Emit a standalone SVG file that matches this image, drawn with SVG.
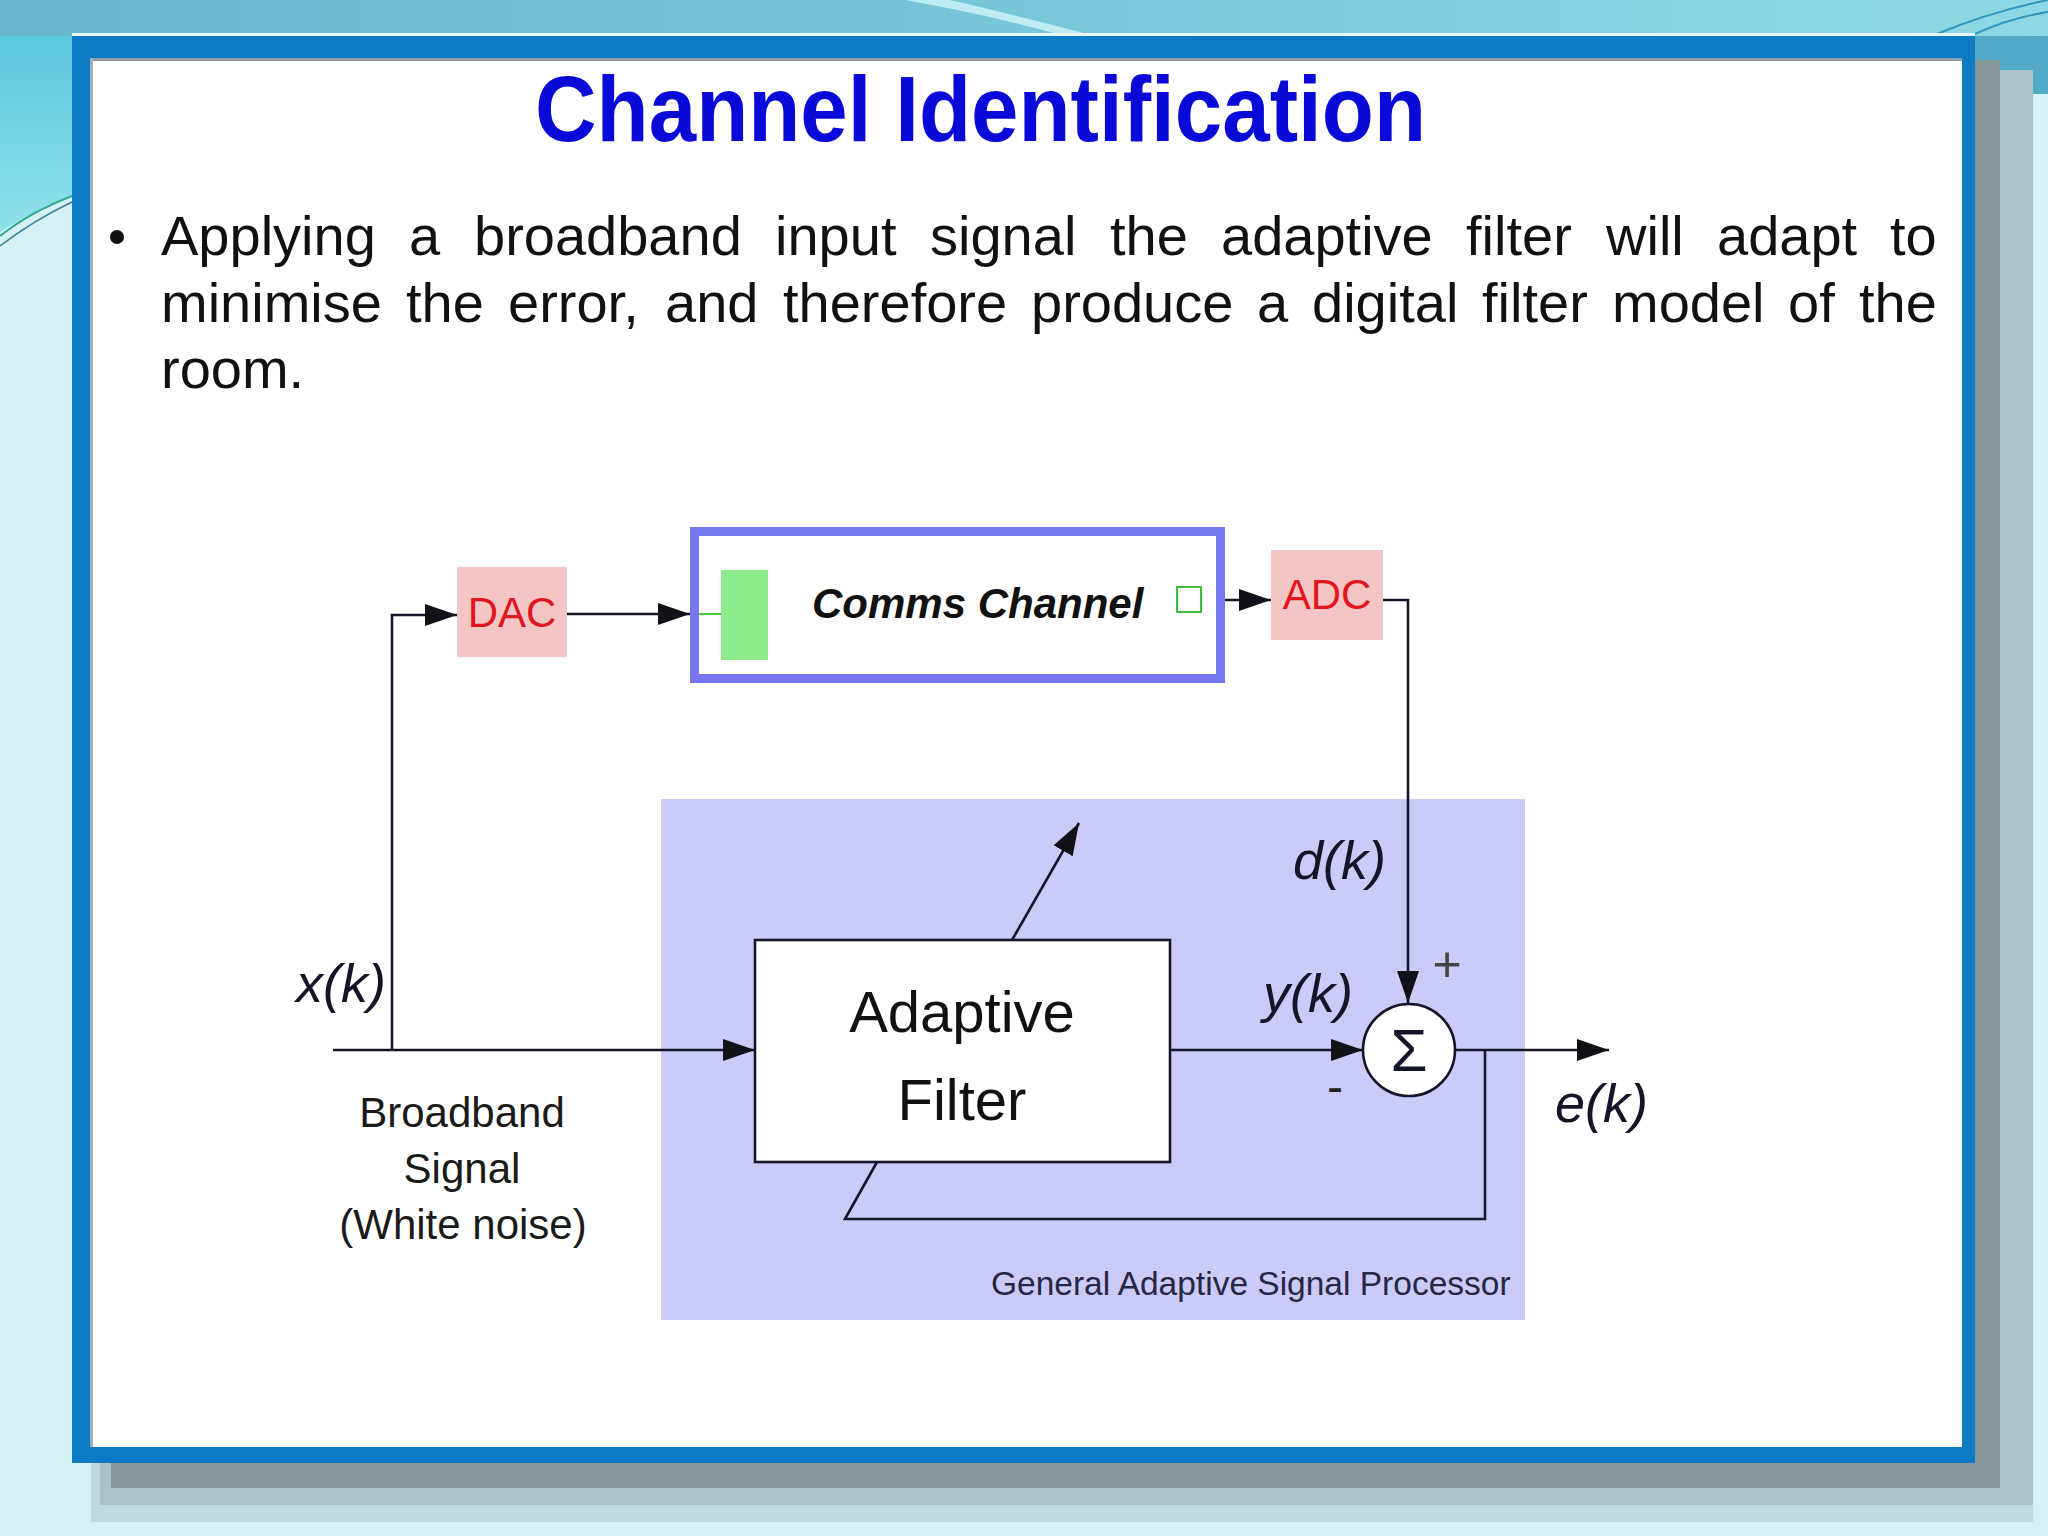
<svg xmlns="http://www.w3.org/2000/svg" width="2048" height="1536" viewBox="0 0 2048 1536">
<defs>
<linearGradient id="topband" x1="0" y1="0" x2="1" y2="0"><stop offset="0" stop-color="#69B5CE"/><stop offset="0.5" stop-color="#78C6DA"/><stop offset="1" stop-color="#8DD9E5"/></linearGradient>
<linearGradient id="wedge" x1="0" y1="0" x2="0" y2="1"><stop offset="0" stop-color="#5CC8DC"/><stop offset="1" stop-color="#8FE0EA"/></linearGradient>
<marker id="arr" markerUnits="userSpaceOnUse" markerWidth="32" markerHeight="22" refX="32" refY="11" orient="auto"><path d="M0,0 L32,11 L0,22 Z" fill="#111118"/></marker>
<style>
.t{font-family:"Liberation Sans",Arial,sans-serif}
.title{font-weight:bold;font-size:92px;fill:#0A0AD8}
.body{font-size:56px;fill:#111}
.lbl{font-size:42px;fill:#1a1a1a}
.red{font-size:42px;fill:#E0161E}
.math{font-style:italic;font-size:54px;fill:#15152a}
.ln{fill:none;stroke:#15152a;stroke-width:2.6}
</style>
</defs>

<g id="background">
<rect x="0" y="0" width="2048" height="1536" fill="#D4F1F6"/>
<rect x="0" y="0" width="2048" height="36" fill="url(#topband)"/>
<path d="M905,0 L950,0 Q1020,16 1095,36 L1065,36 Q990,15 905,0 Z" fill="#BDEDF3"/>
<path d="M0,36 L72,36 L72,196 Q35,210 0,232 Z" fill="url(#wedge)"/>
<path d="M0,236 Q30,212 72,196" fill="none" stroke="#2FA88C" stroke-width="2"/>
<path d="M0,246 Q34,220 72,202" fill="none" stroke="#3C7F96" stroke-width="1.5"/>
<rect x="1975" y="36" width="73" height="58" fill="#52A9C6"/>
<path d="M1937,34 Q1990,12 2048,0" fill="none" stroke="#2F98BE" stroke-width="2"/>
<path d="M1975,34 Q2010,18 2048,12" fill="none" stroke="#2F98BE" stroke-width="2"/>
</g>

<g id="frame">
<rect x="91" y="80" width="1942" height="1442" fill="#BFDADD"/>
<rect x="100" y="70" width="1933" height="1435" fill="#A9C2C5"/>
<rect x="111" y="60" width="1889" height="1428" fill="#859698"/>
<rect x="72" y="33" width="1903" height="3" fill="#E8F7FA"/>
<rect x="72" y="36" width="1903" height="1427" fill="#0B7CC3"/>
<rect x="90" y="58" width="1872" height="1389" fill="#FFFFFF"/>
<rect x="90" y="58" width="1872" height="3" fill="#8C9CA2"/>
<rect x="90" y="58" width="3" height="1389" fill="#A0B0B6"/>
</g>

<g id="title">
<text class="t title" x="535" y="141" textLength="891" lengthAdjust="spacingAndGlyphs">Channel Identification</text>
</g>

<g id="bullet-text">
<circle cx="117" cy="237" r="7" fill="#111"/>
<text class="t body" y="255"><tspan x="161">Applying</tspan><tspan x="409">a</tspan><tspan x="474">broadband</tspan><tspan x="775">input</tspan><tspan x="930">signal</tspan><tspan x="1110">the</tspan><tspan x="1221">adaptive</tspan><tspan x="1466">filter</tspan><tspan x="1606">will</tspan><tspan x="1717">adapt</tspan><tspan x="1890">to</tspan></text>
<text class="t body" y="322"><tspan x="161">minimise</tspan><tspan x="406">the</tspan><tspan x="508">error,</tspan><tspan x="665">and</tspan><tspan x="783">therefore</tspan><tspan x="1031">produce</tspan><tspan x="1257">a</tspan><tspan x="1312">digital</tspan><tspan x="1482">filter</tspan><tspan x="1612">model</tspan><tspan x="1788">of</tspan><tspan x="1859">the</tspan></text>
<text class="t body" x="161" y="388">room.</text>
</g>

<g id="panel">
<rect x="661" y="799" width="864" height="521" fill="#CBCBFA"/>
<text class="t" x="991" y="1295" font-size="33.5" fill="#262645">General Adaptive Signal Processor</text>
</g>

<g id="connectors">
<path class="ln" d="M333,1050 H755" marker-end="url(#arr)"/>
<path class="ln" d="M392,1050 V615 H457" marker-end="url(#arr)"/>
<path class="ln" d="M567,614 H690" marker-end="url(#arr)"/>
<path class="ln" d="M1202,600 H1271" marker-end="url(#arr)"/>
<path class="ln" d="M1383,600 H1408 V1003" marker-end="url(#arr)"/>
<path class="ln" d="M1170,1050 H1363" marker-end="url(#arr)"/>
<path class="ln" d="M1455,1050 H1609" marker-end="url(#arr)"/>
<path class="ln" d="M1485,1050 V1219 H845 L877,1162"/>
<path class="ln" d="M1012,940 L1079,823" marker-end="url(#arr)"/>
</g>

<g id="node-dac">
<rect x="457" y="567" width="110" height="90" fill="#F5C5C5"/>
<text class="t red" x="512" y="627" text-anchor="middle">DAC</text>
</g>

<g id="node-comms">
<rect x="694.5" y="531.5" width="526" height="147" fill="#FFFFFF" stroke="#7676EE" stroke-width="9"/>
<line x1="699" y1="614" x2="721" y2="614" stroke="#3FC83F" stroke-width="2"/>
<rect x="721" y="570" width="47" height="90" fill="#8CEC8C"/>
<text class="t" x="812" y="618" font-size="42" font-weight="bold" font-style="italic" fill="#111">Comms Channel</text>
<rect x="1177" y="587" width="24" height="25" fill="#FFFFFF" stroke="#3CBF3C" stroke-width="2"/>
</g>

<g id="node-adc">
<rect x="1271" y="550" width="112" height="90" fill="#F5C5C5"/>
<text class="t red" x="1327" y="609" text-anchor="middle">ADC</text>
</g>

<g id="node-filter">
<rect x="755" y="940" width="415" height="222" fill="#FFFFFF" stroke="#15152a" stroke-width="2.6"/>
<text class="t" x="962" y="1032" font-size="58" fill="#111" text-anchor="middle">Adaptive</text>
<text class="t" x="962" y="1120" font-size="58" fill="#111" text-anchor="middle">Filter</text>
</g>

<g id="node-sum">
<circle cx="1409" cy="1050" r="46" fill="#FFFFFF" stroke="#15152a" stroke-width="2.6"/>
<text class="t" x="1409" y="1071" font-size="60" fill="#15152a" text-anchor="middle">Σ</text>
</g>

<g id="labels">
<text class="t math" x="296" y="1002">x(k)</text>
<text class="t math" x="1293" y="879">d(k)</text>
<text class="t math" x="1263" y="1012">y(k)</text>
<text class="t math" x="1555" y="1122">e(k)</text>
<text class="t" x="1447" y="981" font-size="50" fill="#444" text-anchor="middle">+</text>
<text class="t" x="1335" y="1103" font-size="48" fill="#222" text-anchor="middle">-</text>
<text class="t lbl" x="462" y="1127" text-anchor="middle">Broadband</text>
<text class="t lbl" x="462" y="1183" text-anchor="middle">Signal</text>
<text class="t lbl" x="463" y="1239" text-anchor="middle">(White noise)</text>
</g>
</svg>
